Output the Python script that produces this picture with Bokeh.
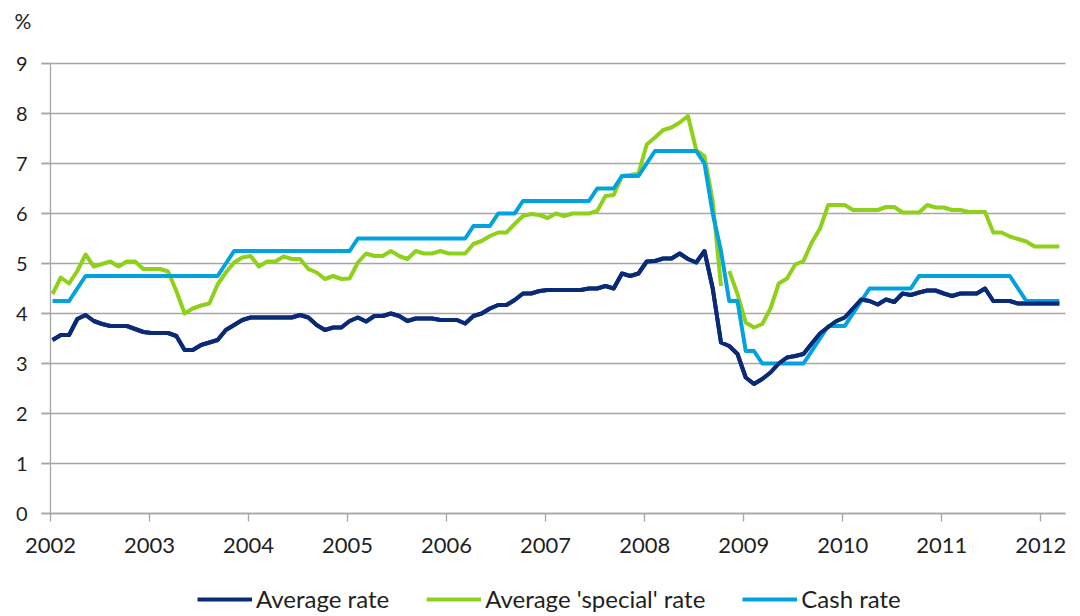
from bokeh.plotting import figure
from bokeh.models import Legend, LegendItem, FixedTicker, Range1d, Label
from bokeh.embed import file_html
from bokeh.resources import INLINE

# ---------------- data (monthly, Jan 2002 - Mar 2012) ----------------
years = [2002, 2003, 2004, 2005, 2006, 2007, 2008, 2009, 2010, 2011, 2012]
year_labels = ["2002", "2003", "2004", "2005", "2006", "2007", "2008", "2009", "2010", "2011", "2012"]
y_ticks = [0, 1, 2, 3, 4, 5, 6, 7, 8, 9]
x_start, x_end = 2002, 2012.25
y_min, y_max = 0, 9

months = [f"{2002 + i // 12}-{i % 12 + 1:02d}" for i in range(123)]

average_rate = [
    3.47, 3.57, 3.57, 3.89, 3.97, 3.85, 3.79, 3.75, 3.75, 3.75, 3.69, 3.63,   # 2002
    3.61, 3.61, 3.61, 3.55, 3.27, 3.27, 3.37, 3.42, 3.47, 3.67, 3.77, 3.87,   # 2003
    3.92, 3.92, 3.92, 3.92, 3.92, 3.92, 3.97, 3.92, 3.77, 3.67, 3.72, 3.72,   # 2004
    3.85, 3.92, 3.84, 3.95, 3.95, 4.00, 3.95, 3.85, 3.90, 3.90, 3.90, 3.87,   # 2005
    3.87, 3.87, 3.80, 3.95, 4.00, 4.10, 4.17, 4.17, 4.27, 4.40, 4.40, 4.45,   # 2006
    4.47, 4.47, 4.47, 4.47, 4.47, 4.50, 4.50, 4.55, 4.50, 4.80, 4.75, 4.80,   # 2007
    5.04, 5.05, 5.10, 5.10, 5.20, 5.09, 5.02, 5.25, 4.50, 3.42, 3.35, 3.19,   # 2008
    2.72, 2.59, 2.69, 2.82, 3.00, 3.12, 3.15, 3.19, 3.40, 3.60, 3.73, 3.85,   # 2009
    3.92, 4.10, 4.28, 4.25, 4.18, 4.28, 4.23, 4.40, 4.37, 4.42, 4.46, 4.46,   # 2010
    4.40, 4.35, 4.40, 4.40, 4.40, 4.50, 4.25, 4.25, 4.25, 4.20, 4.20, 4.20,   # 2011
    4.20, 4.20, 4.20,                                                         # 2012
]

special_rate = [
    4.39, 4.72, 4.60, 4.85, 5.18, 4.94, 4.99, 5.04, 4.94, 5.04, 5.04, 4.89,   # 2002
    4.89, 4.89, 4.84, 4.45, 4.00, 4.10, 4.16, 4.20, 4.58, 4.82, 5.02, 5.12,   # 2003
    5.15, 4.94, 5.04, 5.04, 5.14, 5.09, 5.09, 4.89, 4.82, 4.69, 4.75, 4.69,   # 2004
    4.70, 5.02, 5.20, 5.15, 5.15, 5.25, 5.15, 5.09, 5.25, 5.20, 5.20, 5.25,   # 2005
    5.20, 5.20, 5.20, 5.39, 5.45, 5.55, 5.62, 5.62, 5.79, 5.95, 5.99, 5.97,   # 2006
    5.91, 6.00, 5.95, 6.00, 6.00, 6.00, 6.05, 6.35, 6.37, 6.75, 6.77, 6.80,   # 2007
    7.38, 7.52, 7.67, 7.72, 7.82, 7.95, 7.27, 7.15, 6.25, 4.55, 4.85, 4.39,   # 2008
    3.82, 3.72, 3.79, 4.10, 4.60, 4.70, 4.98, 5.05, 5.42, 5.70, 6.17, 6.17,   # 2009
    6.17, 6.07, 6.07, 6.07, 6.07, 6.13, 6.13, 6.02, 6.02, 6.02, 6.17, 6.12,   # 2010
    6.12, 6.07, 6.07, 6.03, 6.03, 6.03, 5.62, 5.62, 5.54, 5.49, 5.44, 5.34,   # 2011
    5.34, 5.34, 5.34,                                                         # 2012
]
special_break_after = "2008-10"   # the special-rate line is not joined between Oct and Nov 2008

cash_rate = [
    4.25, 4.25, 4.25, 4.50, 4.75, 4.75, 4.75, 4.75, 4.75, 4.75, 4.75, 4.75,   # 2002
    4.75, 4.75, 4.75, 4.75, 4.75, 4.75, 4.75, 4.75, 4.75, 5.00, 5.25, 5.25,   # 2003
    5.25, 5.25, 5.25, 5.25, 5.25, 5.25, 5.25, 5.25, 5.25, 5.25, 5.25, 5.25,   # 2004
    5.25, 5.50, 5.50, 5.50, 5.50, 5.50, 5.50, 5.50, 5.50, 5.50, 5.50, 5.50,   # 2005
    5.50, 5.50, 5.50, 5.75, 5.75, 5.75, 6.00, 6.00, 6.00, 6.25, 6.25, 6.25,   # 2006
    6.25, 6.25, 6.25, 6.25, 6.25, 6.25, 6.50, 6.50, 6.50, 6.75, 6.75, 6.75,   # 2007
    7.00, 7.25, 7.25, 7.25, 7.25, 7.25, 7.25, 7.00, 6.00, 5.25, 4.25, 4.25,   # 2008
    3.25, 3.25, 3.00, 3.00, 3.00, 3.00, 3.00, 3.00, 3.25, 3.50, 3.75, 3.75,   # 2009
    3.75, 4.00, 4.25, 4.50, 4.50, 4.50, 4.50, 4.50, 4.50, 4.75, 4.75, 4.75,   # 2010
    4.75, 4.75, 4.75, 4.75, 4.75, 4.75, 4.75, 4.75, 4.75, 4.50, 4.25, 4.25,   # 2011
    4.25, 4.25, 4.25,                                                         # 2012
]

# ---------------- styles / layout ----------------
NAVY = "#0a2a78"
GREEN = "#8fd11a"
CYAN = "#00a3df"
GRID = "#a6a6a6"
TEXT = "#1f1f1f"
FONT = "Lato"

W, H = 1080, 616
PLOT_L, PLOT_R, PLOT_T, PLOT_B = 50, 1065, 63, 513     # data area in canvas pixels
px_x = (PLOT_R - PLOT_L) / (x_end - x_start)
px_y = (PLOT_B - PLOT_T) / (y_max - y_min)
TICK = 9

# month -> fractional year position on the date axis
x = [int(m[:4]) + (int(m[5:]) - 1 + 0.25) / 12 for m in months]
k = months.index(special_break_after) + 1

# The frame fills the whole canvas (so axis labels, legend and the "%" label are
# never clipped); axes are pinned at x = 2002 and y = 0 and bounded to the data area.
p = figure(width=W, height=H,
           x_range=Range1d(x_start - PLOT_L / px_x, x_end + (W - PLOT_R) / px_x),
           y_range=Range1d(y_min - (H - PLOT_B) / px_y, y_max + PLOT_T / px_y),
           output_backend="svg", toolbar_location=None,
           min_border=0)
p.background_fill_color = "white"
p.border_fill_color = "white"
p.outline_line_color = None

# axes
p.xaxis.ticker = FixedTicker(ticks=years)
p.xaxis.major_label_overrides = {yr: lab for yr, lab in zip(years, year_labels)}
p.xaxis.fixed_location = y_min
p.xaxis.bounds = (x_start, x_end)
p.yaxis.ticker = FixedTicker(ticks=y_ticks)
p.yaxis.fixed_location = x_start
p.yaxis.bounds = (y_min, y_max)
for ax in (p.xaxis[0], p.yaxis[0]):
    ax.axis_line_color = GRID
    ax.axis_line_width = 1.3
    ax.major_tick_line_color = GRID
    ax.major_tick_line_width = 1.3
    ax.minor_tick_line_color = None
    ax.major_tick_in = 0
    ax.major_label_text_font = FONT
    ax.major_label_text_color = TEXT
p.xaxis.major_tick_out = 8
p.xaxis.major_label_text_font_size = "22px"
p.xaxis.major_label_standoff = 16
p.yaxis.major_tick_out = TICK
p.yaxis.major_label_text_font_size = "20px"
p.yaxis.major_label_standoff = 14

# horizontal gridlines, limited to the data area
p.xgrid.grid_line_color = None
grid = p.ygrid[0]
if "cross_bounds" in grid.properties():
    grid.ticker = FixedTicker(ticks=y_ticks)
    grid.cross_bounds = (x_start - TICK / px_x, x_end)
    grid.grid_line_color = GRID
    grid.grid_line_width = 1.3
else:
    grid.grid_line_color = None
    p.segment(x0=[x_start - TICK / px_x] * len(y_ticks), x1=[x_end] * len(y_ticks),
              y0=y_ticks, y1=y_ticks, line_color=GRID, line_width=1.3, level="underlay")

# "%" unit label above the value axis
p.add_layout(Label(x=14, y=H - 20, x_units="screen", y_units="screen", text="%",
                   text_font=FONT, text_font_size="21px", text_color=TEXT,
                   text_baseline="middle", text_align="left"))

# lines
r_avg = p.line(x, average_rate, line_color=NAVY, line_width=4, line_join="round")
r_sp1 = p.line(x[:k], special_rate[:k], line_color=GREEN, line_width=4, line_join="round")
r_sp2 = p.line(x[k:], special_rate[k:], line_color=GREEN, line_width=4, line_join="round")
r_cash = p.line(x, cash_rate, line_color=CYAN, line_width=4, line_join="round")
# keep navy line on top where lines overlap, as in the original
r_avg2 = p.line(x, average_rate, line_color=NAVY, line_width=4, line_join="round")

legend = Legend(items=[
    LegendItem(label="Average rate", renderers=[r_avg]),
    LegendItem(label="Average 'special' rate", renderers=[r_sp1]),
    LegendItem(label="Cash rate", renderers=[r_cash]),
], orientation="horizontal", location=(197, 3))
legend.label_text_font = FONT
legend.label_text_font_size = "24px"
legend.label_text_color = TEXT
legend.glyph_width = 55
legend.glyph_height = 24
legend.label_height = 24
legend.label_standoff = 4
legend.spacing = 37
legend.padding = 0
legend.margin = 0
legend.border_line_color = None
legend.background_fill_alpha = 0
p.add_layout(legend)

open("out.html", "w").write(file_html(p, INLINE))
